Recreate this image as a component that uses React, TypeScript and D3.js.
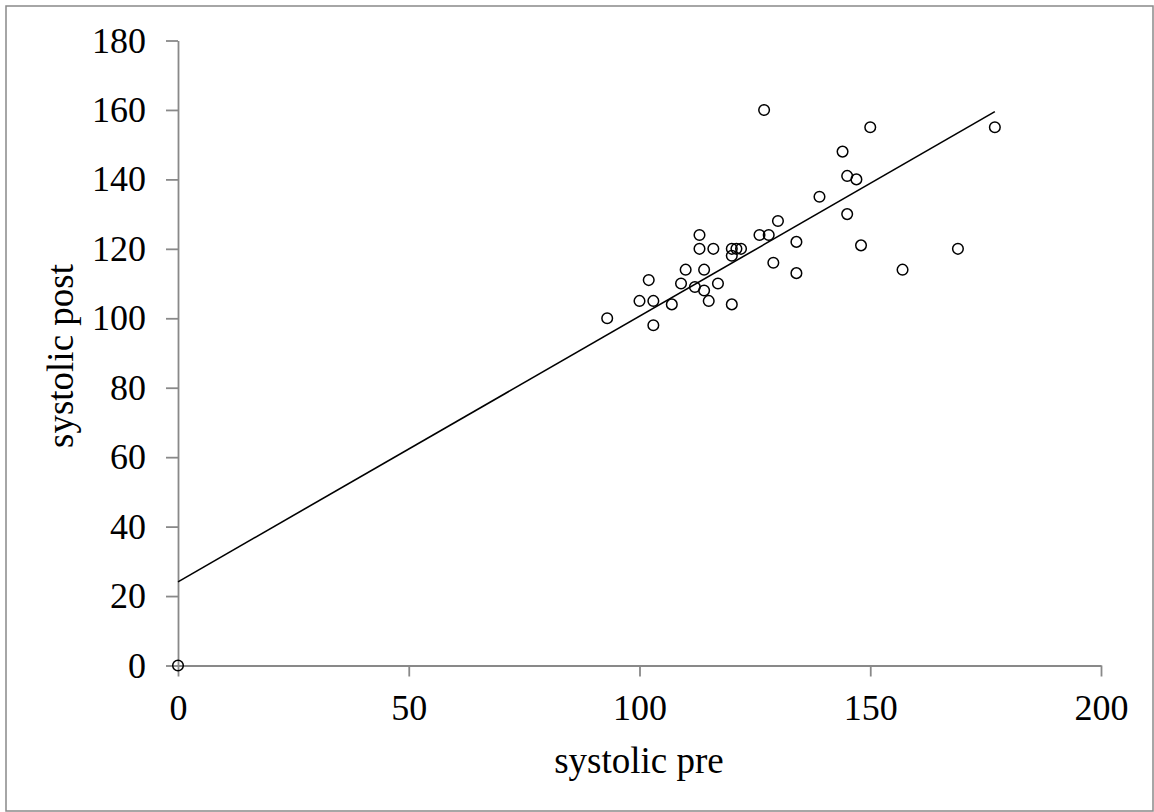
import React, { useEffect, useRef } from 'react';
import * as d3 from 'd3';

// systolic blood pressure, before and after
const systolicPre = [
  0, 127, 150, 144, 145, 147, 139, 145, 148, 130, 126, 128, 134, 129, 134, 113, 113, 116, 120,
  121, 122, 120, 110, 114, 102, 109, 117, 112, 114, 100, 103, 115, 107, 120, 93, 103, 157, 169, 177,
];
const systolicPost = [
  0, 160, 155, 148, 141, 140, 135, 130, 121, 128, 124, 124, 122, 116, 113, 124, 120, 120, 120,
  120, 120, 118, 114, 114, 111, 110, 110, 109, 108, 105, 105, 105, 104, 104, 100, 98, 114, 120, 155,
];

// linear trendline end points
const trendX = [0, 177];
const trendY = [24.1, 159.5];

const xTicks = [0, 50, 100, 150, 200];
const yTicks = [0, 20, 40, 60, 80, 100, 120, 140, 160, 180];

const App = () => {
  const svgRef = useRef<SVGSVGElement>(null);

  useEffect(() => {
    const width = 1154;
    const height = 812;
    const margin = { top: 40.5, right: 53, bottom: 146.5, left: 178 };
    const font = '"Liberation Serif", "Times New Roman", serif';
    const axisColor = '#898989';

    const svg = d3.select(svgRef.current);
    svg.selectAll('*').remove();
    svg.attr('width', width).attr('height', height);

    // outer frame
    svg
      .append('rect')
      .attr('x', 6)
      .attr('y', 6)
      .attr('width', 1147)
      .attr('height', 805)
      .attr('fill', 'white')
      .attr('stroke', axisColor)
      .attr('stroke-width', 1.5);

    const x = d3.scaleLinear().domain([0, 200]).range([margin.left, width - margin.right]);
    const y = d3.scaleLinear().domain([0, 180]).range([height - margin.bottom, margin.top]);

    // Y axis
    const yAxis = svg
      .append('g')
      .attr('transform', `translate(${x(0)},0)`)
      .call(d3.axisLeft(y).tickValues(yTicks).tickSize(12).tickSizeOuter(0).tickPadding(20));
    yAxis.select('.domain').attr('stroke', axisColor).attr('stroke-width', 1.8);
    yAxis.selectAll('.tick line').attr('stroke', axisColor).attr('stroke-width', 1.8);
    yAxis
      .selectAll('.tick text')
      .attr('fill', 'black')
      .attr('font-family', font)
      .attr('font-size', 36);

    // X axis
    const xAxis = svg
      .append('g')
      .attr('transform', `translate(0,${y(0)})`)
      .call(d3.axisBottom(x).tickValues(xTicks).tickSize(11).tickSizeOuter(0).tickPadding(18));
    xAxis.select('.domain').attr('stroke', axisColor).attr('stroke-width', 1.8);
    xAxis.selectAll('.tick line').attr('stroke', axisColor).attr('stroke-width', 1.8);
    xAxis
      .selectAll('.tick text')
      .attr('fill', 'black')
      .attr('font-family', font)
      .attr('font-size', 36);

    // trendline
    const line = d3
      .line<number>()
      .x((d) => x(d))
      .y((d, i) => y(trendY[i]));
    svg
      .append('path')
      .datum(trendX)
      .attr('fill', 'none')
      .attr('stroke', 'black')
      .attr('stroke-width', 1.6)
      .attr('d', line);

    // points
    svg
      .append('g')
      .selectAll('circle')
      .data(systolicPre)
      .join('circle')
      .attr('cx', (d) => x(d))
      .attr('cy', (d, i) => y(systolicPost[i]))
      .attr('r', 5.3)
      .attr('fill', 'none')
      .attr('stroke', 'black')
      .attr('stroke-width', 1.5);

    // axis titles
    svg
      .append('text')
      .attr('x', 639)
      .attr('y', 773)
      .attr('text-anchor', 'middle')
      .attr('font-family', font)
      .attr('font-size', 37)
      .text('systolic pre');

    svg
      .append('text')
      .attr('transform', `translate(73,356) rotate(-90)`)
      .attr('text-anchor', 'middle')
      .attr('font-family', font)
      .attr('font-size', 37)
      .text('systolic post');
  }, []);

  return <svg ref={svgRef} style={{ position: 'absolute', left: 0, top: 0 }}></svg>;
};

export default App;
